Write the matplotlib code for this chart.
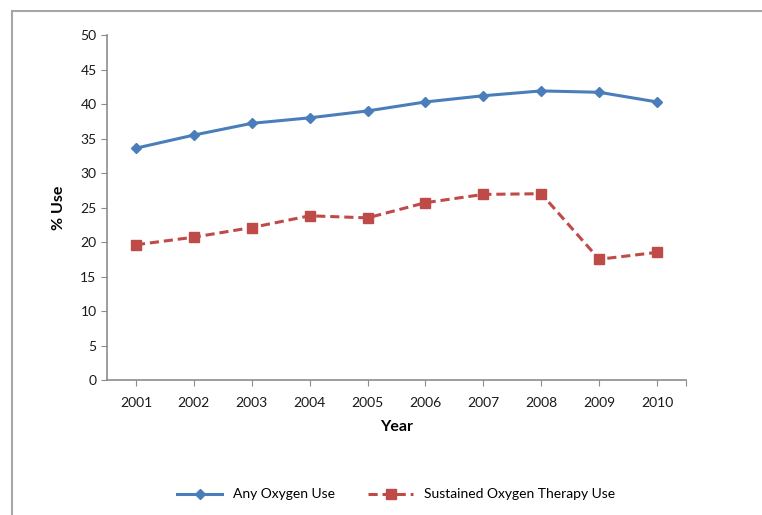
import matplotlib.pyplot as plt
from matplotlib.patches import Rectangle

plt.rcParams['font.family'] = ['Lato', 'DejaVu Sans']

# Datos
years = ['2001', '2002', '2003', '2004', '2005', '2006', '2007', '2008', '2009', '2010']
any_oxygen = [33.6, 35.5, 37.2, 38.0, 39.0, 40.3, 41.2, 41.9, 41.7, 40.3]
sustained_oxygen = [19.6, 20.7, 22.1, 23.8, 23.5, 25.7, 26.9, 27.0, 17.5, 18.5]

fig = plt.figure(figsize=(7.62, 5.15), dpi=100)
ax = fig.add_axes([0.1404, 0.2621, 0.7599, 0.6699])

x = list(range(1, len(years) + 1))
ax.plot(x, any_oxygen, color='#4A7EBB', linewidth=2.2, marker='D', markersize=5,
        label='Any Oxygen Use')
ax.plot(x, sustained_oxygen, color='#BE4B48', linewidth=2.2, linestyle=(0, (3, 1.6)),
        marker='s', markersize=7, label='Sustained Oxygen Therapy Use')

ax.set_xlim(0.5, 10.5)
ax.set_ylim(0, 50)
ax.set_yticks(range(0, 51, 5))
ax.set_xticks(x + [10.5])
ax.set_xticklabels(years + [''])

# Bordes y ejes
ax.spines['top'].set_visible(False)
ax.spines['right'].set_visible(False)
for s in ['left', 'bottom']:
    ax.spines[s].set_color('#8C8C8C')
    ax.spines[s].set_linewidth(1.2)
ax.tick_params(axis='both', colors='#8C8C8C', labelcolor='#1A1A1A', labelsize=10, length=4)
ax.tick_params(axis='x', pad=8)

ax.set_xlabel('Year', fontsize=11.5, fontweight='bold', labelpad=8)
ax.set_ylabel('% Use', fontsize=11.5, fontweight='bold', labelpad=10)

fig.legend(loc='center', bbox_to_anchor=(0.52, 0.04), ncol=2, frameon=False,
           fontsize=10, handlelength=3.2, columnspacing=2.4)

# Marco gris del grafico
fig.patches.append(Rectangle((12 / 762, -0.1), 1.2, 0.1 + (515 - 11) / 515,
                             transform=fig.transFigure, fill=False,
                             edgecolor='#A6A6A6', linewidth=1.5, clip_on=False))

fig.savefig('out.png', dpi=100)
